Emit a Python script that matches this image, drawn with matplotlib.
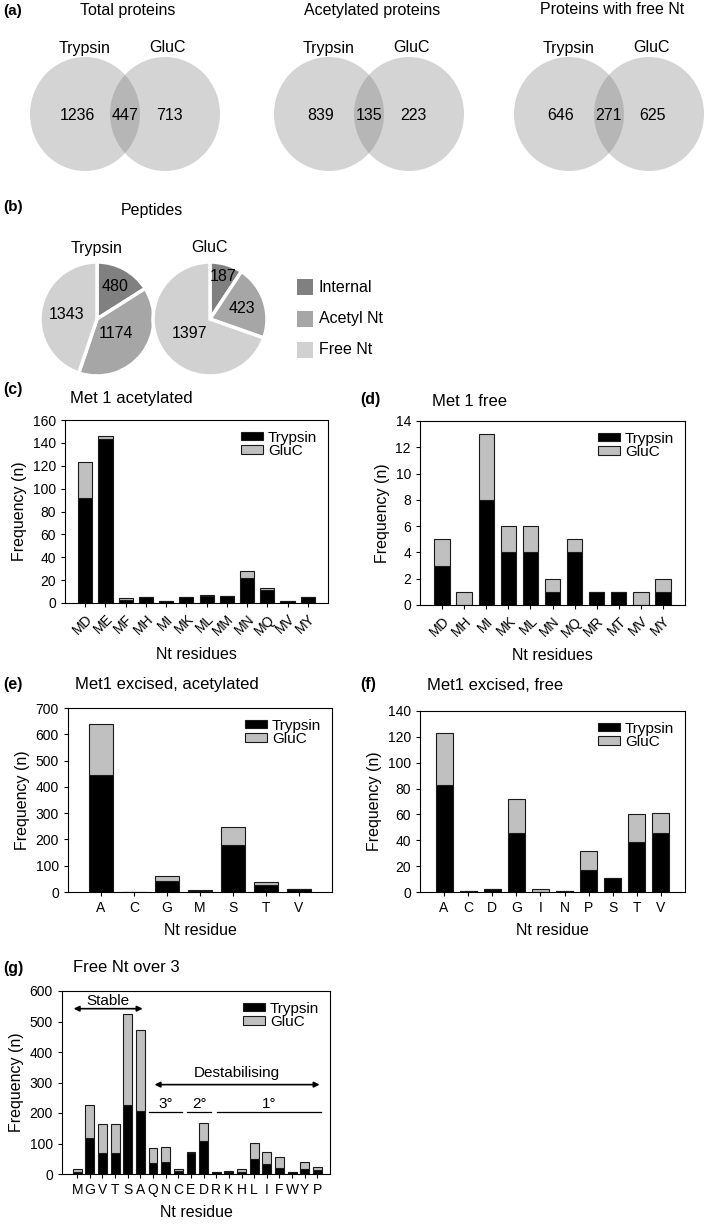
import numpy as np
import matplotlib.pyplot as plt
from matplotlib.patches import Ellipse, Rectangle

plt.rcParams['font.family'] = ['Liberation Sans', 'DejaVu Sans']

W, H = 709, 1227

# (a) venn counts
venn_titles = ['Total proteins', 'Acetylated proteins', 'Proteins with free Nt']
venn_tryp_only = [1236, 839, 646]
venn_both = [447, 135, 271]
venn_gluc_only = [713, 223, 625]

# (b) peptides
pie_parts = ['Internal', 'Acetyl Nt', 'Free Nt']
pie_trypsin = [480, 1174, 1343]
pie_gluc = [187, 423, 1397]

# (c) Met 1 acetylated
c_cats = ['MD', 'ME', 'MF', 'MH', 'MI', 'MK', 'ML', 'MM', 'MN', 'MQ', 'MV', 'MY']
c_tryp = [92, 143, 3, 5, 2, 5, 6, 6, 22, 11, 2, 5]
c_gluc = [31, 3, 1, 0, 0, 0, 1, 0, 6, 2, 0, 0]

# (d) Met 1 free
d_cats = ['MD', 'MH', 'MI', 'MK', 'ML', 'MN', 'MQ', 'MR', 'MT', 'MV', 'MY']
d_tryp = [3, 0, 8, 4, 4, 1, 4, 1, 1, 0, 1]
d_gluc = [2, 1, 5, 2, 2, 1, 1, 0, 0, 1, 1]

# (e) Met1 excised, acetylated
e_cats = ['A', 'C', 'G', 'M', 'S', 'T', 'V']
e_tryp = [445, 0, 42, 5, 178, 27, 11]
e_gluc = [195, 0, 18, 1, 70, 10, 1]

# (f) Met1 excised, free
f_cats = ['A', 'C', 'D', 'G', 'I', 'N', 'P', 'S', 'T', 'V']
f_tryp = [83, 1, 2, 46, 0, 1, 17, 11, 39, 46]
f_gluc = [40, 0, 0, 26, 2, 0, 15, 0, 21, 15]

# (g) Free Nt over 3
g_cats = list('MGVTSAQNCEDRKHLIFWYP')
g_tryp = [8, 117, 68, 68, 225, 206, 35, 38, 11, 68, 108, 5, 8, 5, 48, 32, 21, 5, 18, 13]
g_gluc = [10, 108, 96, 96, 301, 267, 49, 51, 5, 5, 60, 0, 1, 11, 55, 39, 34, 0, 22, 9]

fig = plt.figure(figsize=(W / 100, H / 100), dpi=100)


def rect(l, t, r, b):
    return [l / W, 1 - b / H, (r - l) / W, (b - t) / H]


def ftext(x, y, s, **kw):
    fig.text(x / W, 1 - y / H, s, **kw)


# background axes in pixel coords
bg = fig.add_axes([0, 0, 1, 1])
bg.set_xlim(0, W)
bg.set_ylim(H, 0)
bg.axis('off')

# ---- (a) venn
ftext(3, 11, '(a)', fontsize=11, fontweight='bold', va='center')
cl_list = [85, 329, 569]
cy = 114
for i in range(3):
    cl = cl_list[i]
    cr = cl + 80
    e1 = Ellipse((cl, cy), 110, 114, facecolor='#d4d4d4', edgecolor='none')
    e2 = Ellipse((cr, cy), 110, 114, facecolor='#d4d4d4', edgecolor='none')
    bg.add_patch(e1)
    bg.add_patch(e2)
    lens = Ellipse((cr, cy), 110, 114, facecolor='#b6b6b6', edgecolor='none')
    bg.add_patch(lens)
    lens.set_clip_path(e1)
    bg.text((cl + cr) / 2 + 3, 10, venn_titles[i], fontsize=11.5, ha='center', va='center')
    bg.text(cl, 48, 'Trypsin', fontsize=11.5, ha='center', va='center')
    bg.text(cr + 3, 48, 'GluC', fontsize=11.5, ha='center', va='center')
    bg.text(cl - 8, 115, str(venn_tryp_only[i]), fontsize=11.5, ha='center', va='center')
    bg.text((cl + cr) / 2, 115, str(venn_both[i]), fontsize=11.5, ha='center', va='center')
    bg.text(cr + 4, 115, str(venn_gluc_only[i]), fontsize=11.5, ha='center', va='center')

# ---- (b) pies
ftext(3, 207, '(b)', fontsize=11, fontweight='bold', va='center')
ftext(152, 210, 'Peptides', fontsize=11.5, ha='center', va='center')
pie_cols = ['#808080', '#a6a6a6', '#d1d1d1']
pies = [(97, pie_trypsin, 'Trypsin', [0.66, 0.42, 0.54]),
        (210, pie_gluc, 'GluC', [0.78, 0.6, 0.44])]
for cx, vals, name, dists in pies:
    py = 319
    pax = fig.add_axes(rect(cx - 62, py - 62, cx + 62, py + 62))
    wedges, _ = pax.pie(vals, radius=57, startangle=90, counterclock=False,
                        colors=pie_cols,
                        wedgeprops=dict(edgecolor='white', linewidth=2.5))
    pax.set_xlim(-62, 62)
    pax.set_ylim(-62, 62)
    pax.axis('off')
    for w, v, dd in zip(wedges, vals, dists):
        ang = np.deg2rad((w.theta1 + w.theta2) / 2)
        pax.text(57 * dd * np.cos(ang), 57 * dd * np.sin(ang), str(v),
                 fontsize=11.5, ha='center', va='center')
    ftext(cx, 248, name, fontsize=11.5, ha='center', va='center')

for i, lab in enumerate(pie_parts):
    yy = 287 + i * 31.5
    bg.add_patch(Rectangle((297, yy - 8), 16, 16, facecolor=pie_cols[i], edgecolor='none'))
    bg.text(319, yy, lab, fontsize=11.5, va='center')


# ---- stacked bar panels
def stacked(box, cats, tryp, gluc, ymax, ystep, xlo, xhi, xlabel, rot=False):
    ax = fig.add_axes(rect(*box))
    x = np.arange(len(cats))
    ax.bar(x, tryp, 0.7, color='black', edgecolor='#1a1a1a', linewidth=0.8, label='Trypsin')
    ax.bar(x, gluc, 0.7, bottom=tryp, color='#c0c0c0', edgecolor='#1a1a1a',
           linewidth=0.8, label='GluC')
    ax.set_xlim(xlo, xhi)
    ax.set_ylim(0, ymax)
    ax.set_yticks(np.arange(0, ymax + 0.1, ystep))
    ax.set_xticks(x)
    if rot:
        ax.set_xticklabels(cats, rotation=45, ha='right', rotation_mode='anchor')
    else:
        ax.set_xticklabels(cats)
    ax.tick_params(direction='out', length=3, labelsize=10, width=0.8)
    for s in ax.spines.values():
        s.set_linewidth(0.8)
    ax.set_ylabel('Frequency (n)', fontsize=11.5)
    ax.set_xlabel(xlabel, fontsize=11.5, labelpad=6)
    ax.legend(loc='upper right', frameon=False, fontsize=11, handlelength=1.5,
              handleheight=0.45, labelspacing=-0.05, borderaxespad=0.3,
              handletextpad=0.3)
    return ax


ftext(13, 389, '(c)', fontsize=11.5, fontweight='bold', ha='center', va='center')
ftext(70, 399, 'Met 1 acetylated', fontsize=12, va='center')
stacked((65, 420, 328, 603), c_cats, c_tryp, c_gluc, 160, 20, -1, 12, 'Nt residues', rot=True)

ftext(370, 400, '(d)', fontsize=11.5, fontweight='bold', ha='center', va='center')
ftext(432, 401, 'Met 1 free', fontsize=12, va='center')
stacked((420, 421, 685, 605), d_cats, d_tryp, d_gluc, 14, 2, -1, 11, 'Nt residues', rot=True)

ftext(13, 685, '(e)', fontsize=11.5, fontweight='bold', ha='center', va='center')
ftext(75, 685, 'Met1 excised, acetylated', fontsize=12, va='center')
stacked((68, 708, 332, 892), e_cats, e_tryp, e_gluc, 700, 100, -1, 7, 'Nt residue')

ftext(368, 685, '(f)', fontsize=11.5, fontweight='bold', ha='center', va='center')
ftext(427, 685, 'Met1 excised, free', fontsize=12, va='center')
stacked((420, 711, 685, 892), f_cats, f_tryp, f_gluc, 140, 20, -1, 10, 'Nt residue')

ftext(13, 968, '(g)', fontsize=11.5, fontweight='bold', ha='center', va='center')
ftext(73, 968, 'Free Nt over 3', fontsize=12, va='center')
ax = stacked((62, 991, 330, 1174), g_cats, g_tryp, g_gluc, 600, 100, -1.2, 20, 'Nt residue')

ax.annotate('', xy=(-0.5, 542), xytext=(5.4, 542),
            arrowprops=dict(arrowstyle='<|-|>', lw=1.2, color='black', mutation_scale=8))
ax.text(2.45, 567, 'Stable', fontsize=11, ha='center', va='center')
ax.annotate('', xy=(5.9, 293), xytext=(19.4, 293),
            arrowprops=dict(arrowstyle='<|-|>', lw=1.2, color='black', mutation_scale=8))
ax.text(12.65, 330, 'Destabilising', fontsize=11, ha='center', va='center')
groups = [('3°', 5.65, 8.3), ('2°', 8.7, 10.6), ('1°', 11.05, 19.3)]
for lab, a, b in groups:
    ax.plot([a, b], [204, 204], color='black', lw=0.9)
    ax.text((a + b) / 2, 229, lab, fontsize=11, ha='center', va='center')

fig.savefig('out.png', dpi=100)
